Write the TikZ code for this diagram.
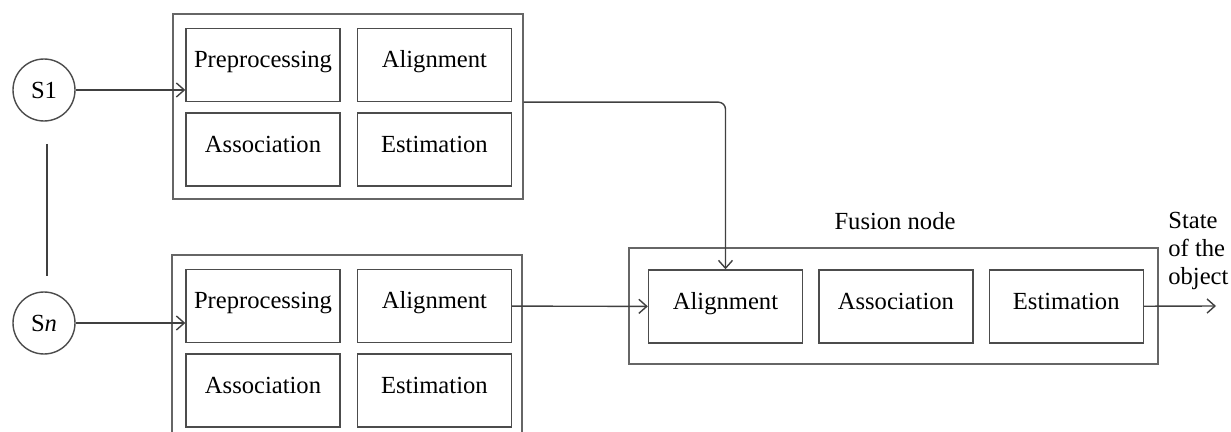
\documentclass[tikz,border=0pt]{standalone}
\usepackage{fontspec}
\setmainfont{Liberation Serif}
\usetikzlibrary{positioning, arrows.meta}

\tikzset{
  box/.style={draw=black!70, line width=0.8pt, minimum width=3.08cm, minimum height=1.46cm,
    inner sep=0pt, text height=0.34cm, text depth=0.22cm, font=\fontsize{14}{16}\selectfont},
  group/.style={draw=black!60, line width=0.8pt, inner sep=0pt},
  sensor/.style={circle, draw=black!70, line width=0.8pt, minimum size=1.24cm, inner sep=0pt,
    font=\fontsize{14}{16}\selectfont},
  flow/.style={-{Straight Barb[length=4.5pt,width=8pt]}, line width=0.8pt, black!75},
}

\begin{document}
\begin{tikzpicture}[x=0.02cm, y=-0.02cm]
    \useasboundingbox (0,0) rectangle (1231,432);
    \clip (0,0) rectangle (1231,432);

    % sensors
    \node[sensor] (s1) at (44,90) {S1};
    \node[sensor] (sn) at (44,323) {S\textit{n}};
    \coordinate (gapT) at (47,144);
    \coordinate (gapB) at (47,276);

    % local nodes and fusion node
    \node[group, minimum width=7cm, minimum height=3.7cm] (grp1) at (348,106.5) {};
    \node[group, minimum width=7cm, minimum height=3.7cm] (grp2) at (347,347.5) {};
    \node[group, minimum width=10.58cm, minimum height=2.32cm] (fus) at (893.5,306) {};

    \node[box] (pre1) at (263,65) {Preprocessing};
    \node[box, right=0.32cm of pre1] (ali1) {Alignment};
    \node[box, below=0.2cm of pre1] (asc1) {Association};
    \node[box, right=0.32cm of asc1] (est1) {Estimation};

    \node[box] (pre2) at (263,306) {Preprocessing};
    \node[box, right=0.32cm of pre2] (ali2) {Alignment};
    \node[box, below=0.2cm of pre2] (asc2) {Association};
    \node[box, right=0.32cm of asc2] (est2) {Estimation};

    \node[box] (aliF) at (725.5,306.5) {Alignment};
    \node[box, right=0.3cm of aliF] (ascF) {Association};
    \node[box, right=0.3cm of ascF] (estF) {Estimation};

    \node[font=\fontsize{14}{16}\selectfont] (fusname) at (895,221) {Fusion node};
    \node[font=\fontsize{14}{16}\selectfont, align=left, anchor=north west, inner sep=0pt]
        (state) at (1168,212) {State\\of the\\object};
    \coordinate (out) at (1216,306);

    \draw[line width=0.8pt, black!75] (gapT) -- (gapB);
    \draw[flow] (s1) -- (pre1.west |- s1.east);
    \draw[flow] (sn) -- (pre2.west |- sn.east);
    \draw[flow, rounded corners=4pt] (grp1.east |- ali1.south) -| (aliF.north);
    \draw[flow] (ali2) -- (aliF);
    \draw[flow] (estF) -- (out);
\end{tikzpicture}
\end{document}
